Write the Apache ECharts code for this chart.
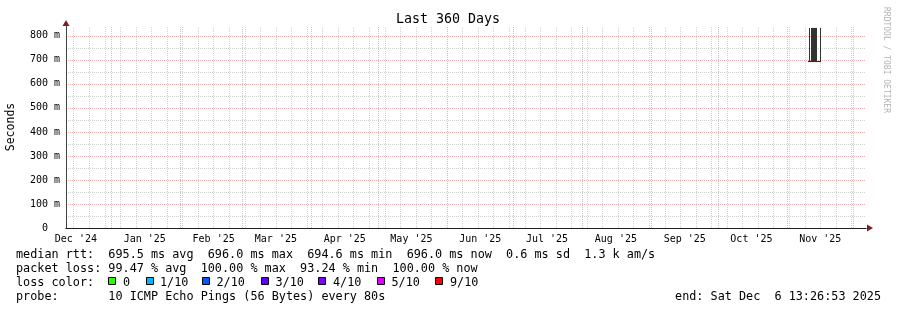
<!DOCTYPE html>
<html><head><meta charset="utf-8">
<script src="https://cdn.jsdelivr.net/npm/echarts@6/dist/echarts.min.js"></script>
<style>html,body{margin:0;padding:0;background:#fff}#c{width:897px;height:310px}</style>
</head><body><div id="c"></div>
<script>
// ---------- data ----------
const endTime = '2025-12-06T13:26:53';
const rangeDays = 360;
const firstWeekLine = '2024-12-15';
const monthStarts = ['2025-01-01','2025-02-01','2025-03-01','2025-04-01','2025-05-01','2025-06-01',
  '2025-07-01','2025-08-01','2025-09-01','2025-10-01','2025-11-01','2025-12-01'];
const monthLabelDates = ['2024-12-16','2025-01-16','2025-02-16','2025-03-16','2025-04-16','2025-05-16',
  '2025-06-16','2025-07-16','2025-08-16','2025-09-16','2025-10-16','2025-11-16'];
const monthLabels = ["Dec '24","Jan '25","Feb '25","Mar '25","Apr '25","May '25",
  "Jun '25","Jul '25","Aug '25","Sep '25","Oct '25","Nov '25"];
const yLabelValues = [0,100,200,300,400,500,600,700,800];
const yMajorTicks = [100,200,300,400,500,600,700,800];
const yMinorTicks = [50,150,250,350,450,550,650,750];
const yMax = 841;
// smoke blocks: [start, end, low ms, high ms]
const smokeBlocks = [
  ['2025-11-10T22:00','2025-11-11T08:40',694,833],
  ['2025-11-11T19:30','2025-11-14T12:15',695,833],
  ['2025-11-15T20:40','2025-11-16T07:30',694,833]
];
const medianLine = [['2025-11-10T11:00',693],['2025-11-16T07:30',693]];
const statLines = [
  'median rtt:  695.5 ms avg  696.0 ms max  694.6 ms min  696.0 ms now  0.6 ms sd  1.3 k am/s',
  'packet loss: 99.47 % avg  100.00 % max  93.24 % min  100.00 % now',
  'loss color:',
  'probe:       10 ICMP Echo Pings (56 Bytes) every 80s'
];
const lossNames = ['0','1/10','2/10','3/10','4/10','5/10','9/10'];
const lossColors = ['#26ff00','#00b8ff','#0059ff','#5e00ff','#7e00ff','#dd00ff','#ff0000'];
const endText = 'end: Sat Dec  6 13:26:53 2025';
const titleText = 'Last 360 Days';
const yName = 'Seconds';
const watermark = 'RRDTOOL / TOBI OETIKER';

// ---------- build ----------
const t = s => Date.parse(s + 'Z');
const endMs = t(endTime);
const startMs = endMs - rangeDays * 86400000;
const weekTicks = [];
for (let w = t(firstWeekLine + 'T00:00'); w < endMs; w += 7 * 86400000) weekTicks.push(w);
const monthMs = monthStarts.map(d => t(d + 'T00:00'));
const labelMs = monthLabelDates.map(d => t(d + 'T00:00'));

const MONO = '"DejaVu Sans Mono", monospace';
const G = {left: 66, top: 26, width: 800, height: 202};
const gridGray = '#d2d2d2', gridRed = '#f3b0b0', axisCol = '#1f1f1f', arrowCol = '#7f1f1f';

function xBase(extra) {
  return Object.assign({type: 'value', min: startMs, max: endMs, position: 'bottom',
    splitLine: {show: false}, axisLabel: {show: false}, axisTick: {show: false}, axisLine: {show: false}}, extra);
}
function yBase(extra) {
  return Object.assign({type: 'value', min: 0, max: yMax, position: 'left',
    splitLine: {show: false}, axisLabel: {show: false}, axisTick: {show: false}, axisLine: {show: false}}, extra);
}

const xAxis = [
  xBase({axisTick: {show: true, inside: true, length: G.height, customValues: weekTicks,
    lineStyle: {color: gridGray, width: 1, type: [1, 1]}}}),
  xBase({axisTick: {show: true, inside: true, length: G.height, customValues: monthMs,
    lineStyle: {color: gridRed, width: 1, type: [1, 1]}}}),
  xBase({z: 3, axisLine: {show: true, symbol: ['none', 'triangle'], symbolSize: [7, 6], symbolOffset: [0, 4],
      lineStyle: {color: arrowCol, width: 1}},
    axisLabel: {show: true, customValues: labelMs, margin: 6, color: '#000', fontFamily: MONO, fontSize: 10,
      formatter: v => { let i = 0, d = Infinity; labelMs.forEach((m, k) => { if (Math.abs(m - v) < d) { d = Math.abs(m - v); i = k; } }); return monthLabels[i]; }}}),
  xBase({z: 4, axisLine: {show: true, lineStyle: {color: axisCol, width: 1}}})
];
const yAxis = [
  yBase({axisTick: {show: true, inside: true, length: G.width, customValues: yMinorTicks,
    lineStyle: {color: gridGray, width: 1, type: [1, 1]}}}),
  yBase({axisTick: {show: true, inside: true, length: G.width, customValues: yMajorTicks,
    lineStyle: {color: gridRed, width: 1, type: [1, 1]}}}),
  yBase({z: 3, axisLine: {show: true, symbol: ['none', 'triangle'], symbolSize: [7, 6], symbolOffset: [0, 3],
      lineStyle: {color: arrowCol, width: 1}},
    axisLabel: {show: true, customValues: yLabelValues, margin: 6, color: '#000', fontFamily: MONO, fontSize: 10,
      formatter: v => v === 0 ? '0  ' : v + ' m'}}),
  yBase({z: 4, axisLine: {show: true, lineStyle: {color: '#444', width: 1}}})
];

const graphic = [];
const txt = (text, x, y, size, opts) => ({type: 'text', x: x, y: y, silent: true,
  style: Object.assign({text: text, x: 0, y: 0, font: size + 'px ' + MONO, fill: '#000',
    align: 'left', textAlign: 'left', verticalAlign: 'middle', textVerticalAlign: 'middle'}, opts || {})});
const ttl = txt(titleText, 448, 19.5, 13.3); ttl.style.align = ttl.style.textAlign = 'center';
graphic.push(ttl);
const yn = txt(yName, 11, 127, 11.5); yn.rotation = Math.PI / 2; yn.style.align = yn.style.textAlign = 'center';
graphic.push(yn);
const wm = txt(watermark, 886, 60, 8); wm.rotation = -Math.PI / 2; wm.style.align = wm.style.textAlign = 'center'; wm.style.fill = '#b4b4b4';
graphic.push(wm);
const rowY = [254.5, 268.5, 282.5, 296.5];
statLines.forEach((s, i) => graphic.push(txt(s, 16, rowY[i], 11.8)));
const boxX = [108, 146, 202, 261, 318, 377, 435];
const nameX = [123, 160, 216.5, 275.5, 333, 391.5, 450];
lossNames.forEach((n, i) => {
  graphic.push({type: 'rect', silent: true, shape: {x: boxX[i] + 0.5, y: 277.5, width: 7, height: 7},
    style: {fill: lossColors[i], stroke: '#000', lineWidth: 1}});
  graphic.push(txt(n, nameX[i], rowY[2], 11.8));
});
const et = txt(endText, 881, rowY[3], 11.8); et.style.align = et.style.textAlign = 'right';
graphic.push(et);

const chart = echarts.init(document.getElementById('c'), null, {renderer: 'canvas'});
chart.setOption({
  backgroundColor: '#fff',
  animation: false,
  grid: Object.assign({containLabel: false, outerBoundsMode: 'none'}, G),
  xAxis: xAxis,
  yAxis: yAxis,
  graphic: graphic,
  series: [
    {type: 'custom', xAxisIndex: 2, yAxisIndex: 2, clip: true,
      data: smokeBlocks.map(b => [t(b[0]), t(b[1]), b[2], b[3]]),
      encode: {x: [0, 1], y: [2, 3]},
      renderItem: (params, api) => {
        const a = api.coord([api.value(0), api.value(3)]);
        const b = api.coord([api.value(1), api.value(2)]);
        return {type: 'rect', shape: {x: a[0], y: a[1], width: b[0] - a[0], height: b[1] - a[1]}, style: {fill: '#333'}};
      }},
    {type: 'line', xAxisIndex: 2, yAxisIndex: 2, showSymbol: false, symbol: 'none',
      data: medianLine.map(p => [t(p[0]), p[1]]),
      lineStyle: {color: '#222', width: 1}}
  ]
});
</script></body></html>
